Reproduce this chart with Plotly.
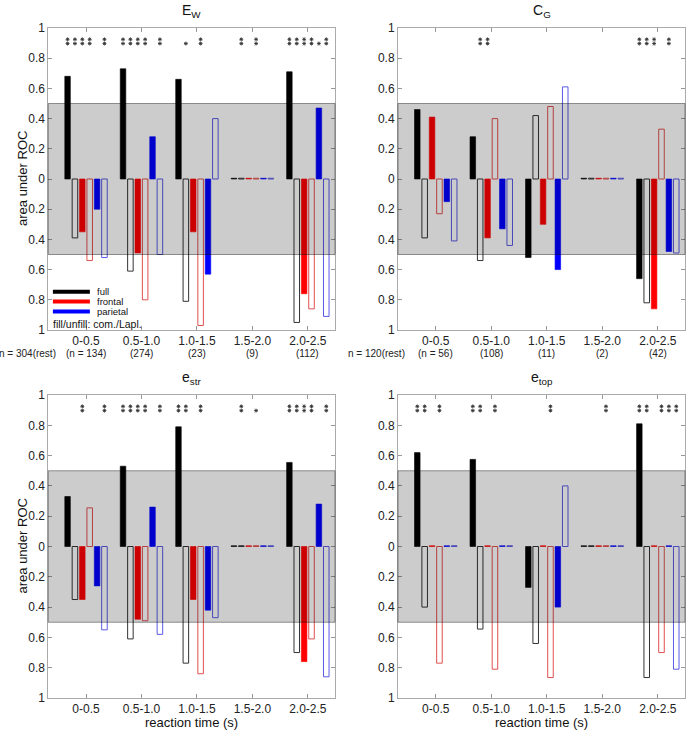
import plotly.graph_objects as go

categories = ["0-0.5", "0.5-1.0", "1.0-1.5", "1.5-2.0", "2.0-2.5"]
panel_titles = ["E<sub>W</sub>", "C<sub>G</sub>", "e<sub>str</sub>", "e<sub>top</sub>"]
series_names = ["full", "frontal", "parietal"]
ytick_vals = [-1, -0.8, -0.6, -0.4, -0.2, 0, 0.2, 0.4, 0.6, 0.8, 1]
ytick_text = ["1", "0.8", "0.6", "0.4", "0.2", "0", "0.2", "0.4", "0.6", "0.8", "1"]

# signed area under ROC (positive drawn upward, negative downward); ~0 bars shown as dashes
ew_full_com = [0.68, 0.73, 0.66, 0.005, 0.71]
ew_full_lapl = [-0.39, -0.61, -0.81, 0.005, -0.95]
ew_front_com = [-0.35, -0.49, -0.35, 0.005, -0.76]
ew_front_lapl = [-0.54, -0.80, -0.97, 0.005, -0.86]
ew_par_com = [-0.20, 0.28, -0.63, 0.005, 0.47]
ew_par_lapl = [-0.52, -0.50, 0.40, 0.005, -0.91]

cg_full_com = [0.46, 0.28, -0.52, 0.005, -0.66]
cg_full_lapl = [-0.39, -0.54, 0.42, 0.005, -0.82]
cg_front_com = [0.41, -0.39, -0.30, 0.005, -0.86]
cg_front_lapl = [-0.23, 0.40, 0.48, 0.005, 0.33]
cg_par_com = [-0.15, -0.33, -0.60, 0.005, -0.48]
cg_par_lapl = [-0.41, -0.44, 0.61, 0.005, -0.49]

es_full_com = [0.33, 0.53, 0.79, 0.005, 0.555]
es_full_lapl = [-0.35, -0.61, -0.77, 0.005, -0.70]
es_front_com = [-0.35, -0.48, -0.35, 0.005, -0.76]
es_front_lapl = [0.255, -0.49, -0.84, 0.005, -0.61]
es_par_com = [-0.26, 0.26, -0.42, 0.005, 0.28]
es_par_lapl = [-0.55, -0.58, -0.47, 0.005, -0.86]

et_full_com = [0.62, 0.575, -0.27, 0.005, 0.81]
et_full_lapl = [-0.40, -0.545, -0.64, 0.005, -0.865]
et_front_com = [0.005, 0.005, 0.005, 0.005, 0.005]
et_front_lapl = [-0.77, -0.81, -0.865, 0.005, -0.70]
et_par_com = [0.005, 0.005, -0.40, 0.005, 0.005]
et_par_lapl = [0.005, 0.005, 0.40, 0.005, -0.81]

# significance stars per bar (0 none, 1 = *, 2 = **), order: full com, full Lapl, frontal com, frontal Lapl, parietal com, parietal Lapl
ew_sig = [[2, 2, 2, 2, 0, 2], [2, 2, 2, 2, 0, 2], [0, 1, 0, 2, 0, 0], [0, 2, 0, 2, 0, 0], [2, 2, 2, 2, 1, 2]]
cg_sig = [[0, 0, 0, 0, 0, 0], [0, 2, 2, 0, 0, 0], [0, 0, 0, 0, 0, 0], [0, 0, 0, 0, 0, 0], [2, 2, 2, 0, 2, 0]]
es_sig = [[0, 0, 2, 0, 0, 2], [2, 2, 2, 2, 0, 2], [2, 2, 0, 2, 0, 0], [0, 2, 0, 1, 0, 0], [2, 2, 2, 2, 0, 2]]
et_sig = [[2, 2, 0, 2, 0, 0], [2, 2, 0, 2, 0, 0], [0, 0, 0, 2, 0, 0], [0, 0, 0, 2, 0, 0], [2, 2, 0, 2, 2, 2]]

ew_counts = ["n = 304(rest)", "(n = 134)", "(274)", "(23)", "(9)", "(112)"]
cg_counts = ["n = 120(rest)", "(n = 56)", "(108)", "(11)", "(2)", "(42)"]

panels = [
    [ew_full_com, ew_full_lapl, ew_front_com, ew_front_lapl, ew_par_com, ew_par_lapl],
    [cg_full_com, cg_full_lapl, cg_front_com, cg_front_lapl, cg_par_com, cg_par_lapl],
    [es_full_com, es_full_lapl, es_front_com, es_front_lapl, es_par_com, es_par_lapl],
    [et_full_com, et_full_lapl, et_front_com, et_front_lapl, et_par_com, et_par_lapl],
]
sigs = [ew_sig, cg_sig, es_sig, et_sig]
counts = [ew_counts, cg_counts, None, None]

FONT = "Liberation Sans, Arial, Helvetica, sans-serif"
fill_cols = ["#000000", "#ff0000", "#0000ff"]
edge_cols = ["#333333", "#e25050", "#5a5ae6"]
slot = 0.133
bar_w = 0.1
offsets = [(k - 2.5) * slot for k in range(6)]
xpos = [i + 1 for i in range(len(categories))]

W, H = 689, 730
x_doms = [(48.3 / W, 335 / W), (398 / W, 685 / W)]
y_doms = [(1 - 330 / H, 1 - 28 / H), (1 - 698 / H, 1 - 395 / H)]

fig = go.Figure()
layout = dict(
    width=W, height=H, margin=dict(l=0, r=0, t=0, b=0, pad=0),
    paper_bgcolor="white", plot_bgcolor="white",
    showlegend=False, barmode="overlay",
    font=dict(family=FONT, size=12, color="#222"),
)
shapes = []
annotations = []

for p in range(4):
    row, col = divmod(p, 2)
    ax = "" if p == 0 else str(p + 1)
    xa, ya = "x" + ax, "y" + ax
    data = panels[p]
    for k in range(6):
        c = k // 2
        filled = (k % 2 == 0)
        fig.add_trace(go.Bar(
            x=[xpos[g] + offsets[k] for g in range(len(categories))],
            y=data[k], base=0, width=bar_w,
            marker=dict(
                color=fill_cols[c] if filled else "rgba(0,0,0,0)",
                line=dict(color=fill_cols[c] if filled else edge_cols[c], width=0.6 if filled else 1),
            ),
            xaxis=xa, yaxis=ya, hoverinfo="skip",
        ))
    # significance stars
    sx, sy = [], []
    for g in range(len(categories)):
        for k in range(6):
            s = sigs[p][g][k]
            if s >= 1:
                sx.append(xpos[g] + offsets[k]); sy.append(0.897)
            if s == 2:
                sx.append(xpos[g] + offsets[k]); sy.append(0.925)
    fig.add_trace(go.Scatter(
        x=sx, y=sy, mode="markers",
        marker=dict(symbol="asterisk-open", size=3.2, color="#333", line=dict(width=0.9, color="#333")),
        xaxis=xa, yaxis=ya, hoverinfo="skip",
    ))
    xkey = "xaxis" + ax
    ykey = "yaxis" + ax
    layout[xkey] = dict(
        domain=x_doms[col], anchor=ya, range=[0.32, 5.49], automargin=False,
        tickvals=xpos, ticktext=categories, ticks="inside", ticklen=4,
        tickcolor="#999", showline=True, linecolor="#aaa", linewidth=1, mirror="ticks",
        showgrid=False, zeroline=False, tickfont=dict(size=12, color="#222"),
    )
    layout[ykey] = dict(
        domain=y_doms[row], anchor=xa, range=[-1, 1], automargin=False,
        tickvals=ytick_vals, ticktext=ytick_text, ticks="inside", ticklen=4,
        tickcolor="#999", showline=True, linecolor="#aaa", linewidth=1, mirror="ticks",
        showgrid=False, zeroline=False, tickfont=dict(size=12, color="#222"),
    )
    # gray chance band (0.5 either side)
    shapes.append(dict(
        type="rect", xref=xa + " domain", yref=ya, x0=0, x1=1, y0=-0.5, y1=0.5,
        fillcolor="rgba(0,0,0,0.2)", line=dict(color="rgba(0,0,0,0.4)", width=1), layer="above",
    ))
    # title
    annotations.append(dict(
        text=panel_titles[p], xref=xa + " domain", yref=ya + " domain", x=0.5, y=1,
        yshift=6, showarrow=False, font=dict(size=14, color="#111"), xanchor="center", yanchor="bottom",
    ))
    if col == 0:
        annotations.append(dict(
            text="area under ROC", xref="paper", yref=ya + " domain", x=22 / W, y=0.5,
            textangle=-90, showarrow=False, font=dict(size=13, color="#111"),
            xanchor="center", yanchor="middle",
        ))
    if counts[p] is not None:
        cl = counts[p]
        annotations.append(dict(text=cl[0], xref=xa + " domain", yref="paper", x=-0.074, y=1 - 353 / H,
                                showarrow=False, font=dict(size=10, color="#222"),
                                xanchor="center", yanchor="middle"))
        for g in range(len(categories)):
            annotations.append(dict(text=cl[g + 1], xref=xa, yref="paper", x=xpos[g], y=1 - 353 / H,
                                    showarrow=False, font=dict(size=10, color="#222"),
                                    xanchor="center", yanchor="middle"))
    if row == 1:
        annotations.append(dict(
            text="reaction time (s)", xref=xa + " domain", yref="paper", x=0.5, y=1 - 722 / H,
            showarrow=False, borderpad=0, font=dict(size=13, color="#111"),
            xanchor="center", yanchor="middle",
        ))

# legend (top-left panel)
leg_y = [0.127, 0.094, 0.061]
for i, name in enumerate(series_names):
    shapes.append(dict(type="line", xref="x domain", yref="y domain", x0=0.016, x1=0.145,
                       y0=leg_y[i], y1=leg_y[i], line=dict(color=fill_cols[i], width=4), layer="above"))
    annotations.append(dict(text=name, xref="x domain", yref="y domain", x=0.168, y=leg_y[i],
                            xanchor="left", yanchor="middle", showarrow=False, borderpad=0,
                            font=dict(size=9.5, color="#111")))
annotations.append(dict(text="fill/unfill: com./Lapl.", xref="x domain", yref="y domain", x=0.012, y=0.02,
                        xanchor="left", yanchor="middle", showarrow=False, borderpad=0,
                        font=dict(size=10.5, color="#111")))

layout["shapes"] = shapes
layout["annotations"] = annotations
fig.update_layout(**layout)
fig.write_html("out.html", config={"displayModeBar": False},
               post_script="document.body.style.margin='0px';document.body.style.overflow='hidden';")
